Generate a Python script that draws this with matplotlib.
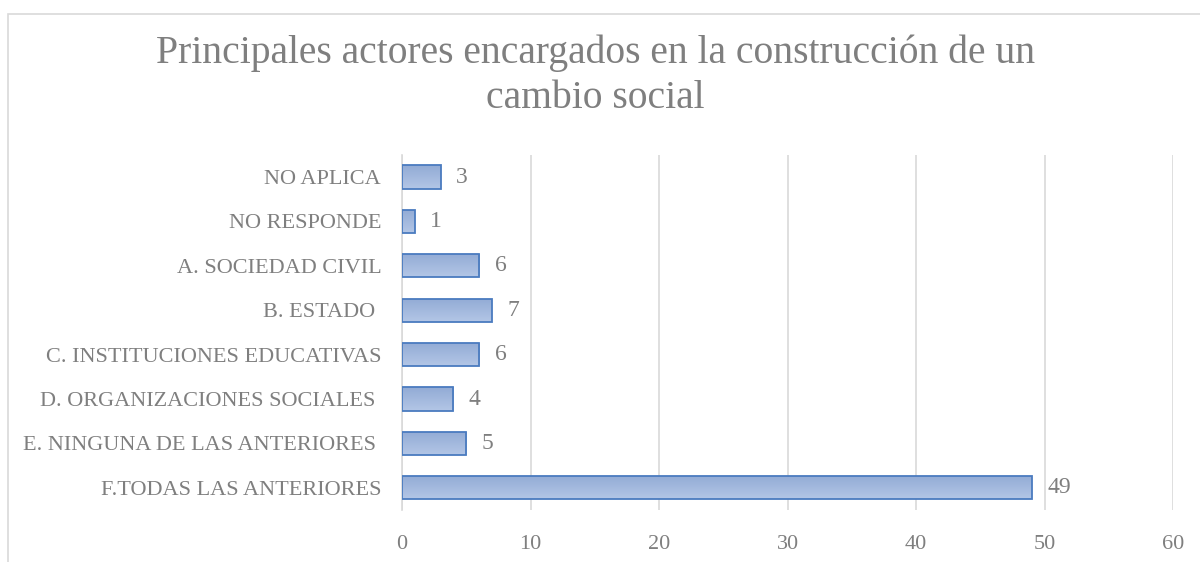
import numpy as np
import matplotlib.pyplot as plt
from matplotlib.colors import LinearSegmentedColormap
from matplotlib.patches import Rectangle

categorias = ["NO APLICA", "NO RESPONDE", "A. SOCIEDAD CIVIL", "B. ESTADO ",
              "C. INSTITUCIONES EDUCATIVAS", "D. ORGANIZACIONES SOCIALES ",
              "E. NINGUNA DE LAS ANTERIORES ", "F.TODAS LAS ANTERIORES"]
valores = [3, 1, 6, 7, 6, 4, 5, 49]
ticks_x = [0, 10, 20, 30, 40, 50, 60]

plt.rcParams['font.family'] = ['Liberation Serif', 'DejaVu Serif']
gris = "#7f7f7f"

fig = plt.figure(figsize=(12, 5.62), dpi=100)
ax = fig.add_axes([0.335, 0.0925, 0.6425, 0.632])

# marco del grafico
fig.patches.append(Rectangle((8 / 1200, -0.1), 1.2, 1 - 14 / 562 + 0.1,
                             transform=fig.transFigure, fill=False,
                             edgecolor="#d9d9d9", linewidth=1.2))

y = np.arange(len(categorias))
bars = ax.barh(y, valores, height=0.52, color="#a3b8dc", edgecolor="#4a7bbf",
               linewidth=1.3, zorder=3)

cmap = LinearSegmentedColormap.from_list("azul", ["#b3c6e6", "#92abd5"])
grad = np.linspace(0, 1, 64).reshape(-1, 1)
for b in bars:
    x0, y0 = b.get_x(), b.get_y()
    w, h = b.get_width(), b.get_height()
    im = ax.imshow(grad, cmap=cmap, aspect="auto", extent=(x0, x0 + w, y0, y0 + h),
                   origin="upper", zorder=3)
    im.set_clip_path(b)
    b.set_facecolor("none")
    b.set_zorder(4)

for yi, v in zip(y, valores):
    ax.text(v + 1.2, yi, str(v), va="center", ha="left", fontsize=17, color=gris)

ax.set_ylim(len(categorias) - 0.5, -0.5)
ax.set_xlim(0, 60)
ax.set_xticks(ticks_x)
ax.set_yticks(y)
ax.set_yticklabels(categorias)
ax.tick_params(axis="both", length=0, labelsize=16, colors=gris)
ax.tick_params(axis="x", pad=18)
ax.tick_params(axis="y", pad=15)
ax.grid(axis="x", color="#d9d9d9", linewidth=1.2, zorder=0)
for s in ["top", "right", "bottom"]:
    ax.spines[s].set_visible(False)
ax.spines["left"].set_color("#d9d9d9")
ax.spines["left"].set_linewidth(1.2)

fig.text(0.496, 0.865, "Principales actores encargados en la construcción de un\ncambio social",
         ha="center", va="center", fontsize=28.5, color=gris, linespacing=1.27)

fig.savefig("out.png", dpi=100)
